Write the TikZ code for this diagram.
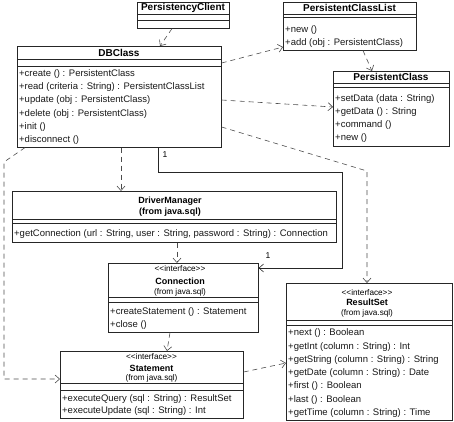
\documentclass[tikz,border=0pt]{standalone}
\usepackage{fontspec}
\setmainfont{Liberation Sans}
\usetikzlibrary{arrows.meta,calc}
\begin{document}
\begin{tikzpicture}[x=1pt,y=-1pt,
  cls/.style={draw=black!85, line width=0.6pt, inner sep=0pt, anchor=north west, fill=white},
  sep/.style={draw=black!85, line width=0.6pt},
  mth/.style={anchor=west, inner sep=0pt, font=\fontsize{9.5}{11}\selectfont, text=black!90},
  ttl/.style={inner sep=0pt, font=\fontsize{10}{12}\selectfont\bfseries},
  jttl/.style={inner sep=0pt, font=\fontsize{9}{11}\selectfont\bfseries},
  small/.style={inner sep=0pt, font=\fontsize{8.2}{10}\selectfont},
  dep/.style={draw=black!70, line width=0.6pt, dash pattern=on 5pt off 4pt, -{Straight Barb[length=4.5pt,width=8pt]}},
  assoc/.style={draw=black!85, line width=0.6pt, -{Straight Barb[length=4.5pt,width=8pt]}},
  mult/.style={inner sep=0pt, font=\fontsize{8.5}{10}\selectfont}
]
\useasboundingbox (0,0) rectangle (454,421);

% PersistencyClient
\node[cls, minimum width=92pt, minimum height=26pt] (pc) at (137,2) {};
\node[ttl] (pct) at (183,8) {PersistencyClient};
\draw[sep] (137,14) -- (229,14);
\draw[sep] (137,20) -- (229,20);

% DBClass
\node[cls, minimum width=204pt, minimum height=101pt] (db) at (17,46) {};
\node[ttl] (dbt) at (119,53) {DBClass};
\draw[sep] (17,59) -- (221,59);
\draw[sep] (17,66) -- (221,66);
\foreach \t [count=\i] in {{+create () : PersistentClass},{+read (criteria : String) : PersistentClassList},{+update (obj : PersistentClass)},{+delete (obj : PersistentClass)},{+init ()},{+disconnect ()}}
  \node[mth] (dbm\i) at (19,{74+13.2*(\i-1)}) {\t};

% PersistentClassList
\node[cls, minimum width=133pt, minimum height=48pt] (pcl) at (283,2) {};
\node[ttl] (pclt) at (349.5,8) {PersistentClassList};
\draw[sep] (283,14) -- (416,14);
\draw[sep] (283,17) -- (416,17);
\node[mth] (pclm1) at (285,30) {+new ()};
\node[mth] (pclm2) at (285,43) {+add (obj : PersistentClass)};

% PersistentClass
\node[cls, minimum width=116pt, minimum height=75pt] (pcs) at (333,71) {};
\node[ttl] (pcst) at (391,77) {PersistentClass};
\draw[sep] (333,83) -- (449,83);
\draw[sep] (333,87) -- (449,87);
\foreach \t [count=\i] in {{+setData (data : String)},{+getData () : String},{+command ()},{+new ()}}
  \node[mth] (pcsm\i) at (335,{99+13*(\i-1)}) {\t};

% DriverManager
\node[cls, minimum width=324pt, minimum height=51pt] (dm) at (12,191) {};
\node[jttl] (dmt1) at (170,201) {DriverManager};
\node[jttl] (dmt2) at (170,212) {(from java.sql)};
\draw[sep] (12,219) -- (336,219);
\draw[sep] (12,223) -- (336,223);
\node[mth] (dmm1) at (14,234) {+getConnection (url : String, user : String, password : String) : Connection};

% Connection
\node[cls, minimum width=150pt, minimum height=69pt] (cn) at (108,263) {};
\node[small] (cns) at (180,269) {<{}<interface>{}>};
\node[jttl] (cnt) at (180,281) {Connection};
\node[small] (cnf) at (180,292) {(from java.sql)};
\draw[sep] (108,297) -- (258,297);
\draw[sep] (108,302) -- (258,302);
\node[mth] (cnm1) at (110,312) {+createStatement () : Statement};
\node[mth] (cnm2) at (110,325) {+close ()};

% ResultSet
\node[cls, minimum width=166pt, minimum height=137pt] (rs) at (286,283) {};
\node[small] (rss) at (367,293) {<{}<interface>{}>};
\node[jttl] (rst) at (367,302) {ResultSet};
\node[small] (rsf) at (367,313) {(from java.sql)};
\draw[sep] (286,320) -- (452,320);
\draw[sep] (286,325) -- (452,325);
\foreach \t [count=\i] in {{+next () : Boolean},{+getInt (column : String) : Int},{+getString (column : String) : String},{+getDate (column : String) : Date},{+first () : Boolean},{+last () : Boolean},{+getTime (column : String) : Time}}
  \node[mth] (rsm\i) at (288,{333.3+13.3*(\i-1)}) {\t};

% Statement
\node[cls, minimum width=183pt, minimum height=67pt] (st) at (60,351) {};
\node[small] (sts) at (151.5,357) {<{}<interface>{}>};
\node[jttl] (stt) at (151.5,368) {Statement};
\node[small] (stf) at (151.5,378) {(from java.sql)};
\draw[sep] (60,383) -- (243,383);
\draw[sep] (60,390) -- (243,390);
\node[mth] (stm1) at (62,399) {+executeQuery (sql : String) : ResultSet};
\node[mth] (stm2) at (62,411) {+executeUpdate (sql : String) : Int};

% bend points
\coordinate (b1) at (367,171);
\coordinate (k1) at (342,172);
\coordinate (s1) at (4,162);
\coordinate (s2) at (4,379);

% connectors
\draw[dep] ($(pc.south west)+(35,0)$) -- ($(db.north west)+(143,0)$);
\draw[dep] ($(db.north east)+(0,17)$) -- ($(pcl.north west)+(0,45)$);
\draw[dep] ($(pcl.south west)+(80,0)$) -- ($(pcs.north west)+(39,0)$);
\draw[dep] ($(db.north east)+(0,54)$) -- ($(pcs.north west)+(0,36)$);
\draw[dep] ($(db.north east)+(0,81)$) -- (b1) -- ($(rs.north west)+(81,0)$);
\draw[dep] ($(db.south west)+(104,0)$) -- ($(dm.north west)+(109,0)$);
\draw[dep] ($(db.south west)+(8,0)$) -- (s1) -- (s2) -- ($(st.north west)+(0,28)$);
\draw[dep] ($(dm.south west)+(165,0)$) -- ($(cn.north west)+(69,0)$);
\draw[dep] ($(cn.south west)+(62,0)$) -- ($(st.north west)+(107,0)$);
\draw[dep] ($(st.north east)+(0,21)$) -- ($(rs.north west)+(0,80)$);
\draw[assoc] ($(db.south west)+(141,0)$) |- (k1) |- ($(cn.north east)+(0,5)$);
\node[mult] (m1) at (165,155) {1};
\node[mult] (m2) at (268,256) {1};
\end{tikzpicture}
\end{document}
